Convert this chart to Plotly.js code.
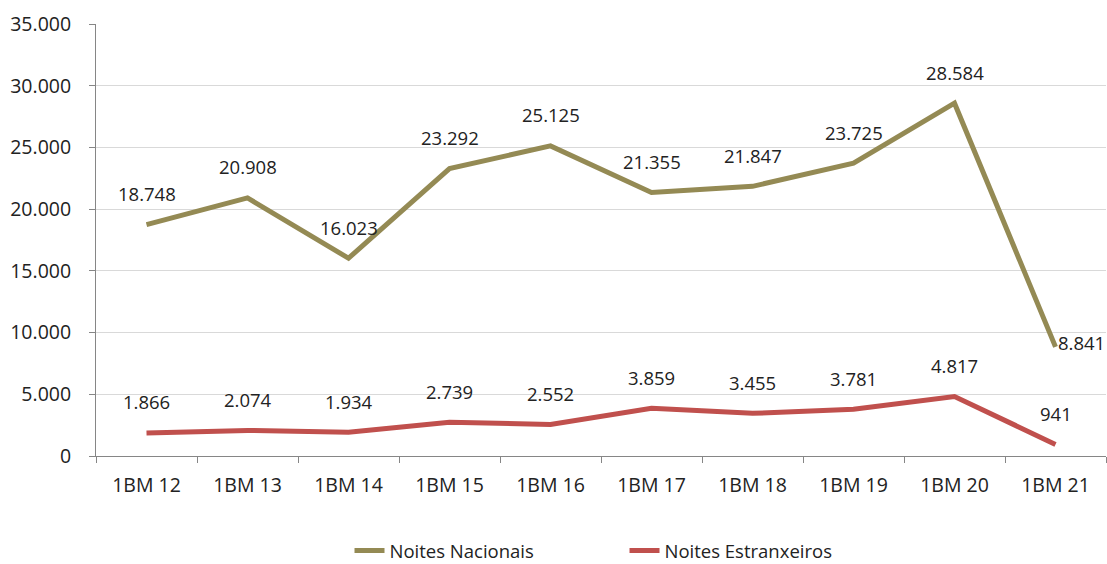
<!DOCTYPE html>
<html><head><meta charset="utf-8">
<script src="https://cdn.plot.ly/plotly-3.0.1.min.js"></script>
<style>html,body{margin:0;padding:0;background:#fff}</style>
</head><body>
<div id="chart" style="width:1107px;height:564px"></div>
<script>
const categories = ["1BM 12","1BM 13","1BM 14","1BM 15","1BM 16","1BM 17","1BM 18","1BM 19","1BM 20","1BM 21"];
const nacionais = [18748,20908,16023,23292,25125,21355,21847,23725,28584,8841];
const estranxeiros = [1866,2074,1934,2739,2552,3859,3455,3781,4817,941];
const yTicks = [0,5000,10000,15000,20000,25000,30000,35000];

function fmt(v){ return String(v).replace(/\B(?=(\d{3})+(?!\d))/g, "."); }

const FONT = "Open Sans, sans-serif";
const annotations = [];
function addLabels(vals){
  vals.forEach((v,i)=>{
    const last = i === vals.length-1 && vals === nacionais;
    annotations.push({
      x: categories[i], y: v, xref:"x", yref:"y", text: fmt(v), showarrow:false,
      xanchor: last ? "left" : "center", yanchor:"middle",
      xshift: 0, yshift: last ? 4 : 31,
      font:{family:FONT,size:18.5,color:"#222"}
    });
  });
}
addLabels(nacionais);
addLabels(estranxeiros);

const traces = [
  {x:categories,y:nacionais,type:"scatter",mode:"lines",name:"Noites Nacionais",line:{color:"#948A54",width:5}},
  {x:categories,y:estranxeiros,type:"scatter",mode:"lines",name:"Noites Estranxeiros",line:{color:"#C0504D",width:5}}
];
const layout = {
  width:1107,height:564,
  margin:{l:96,r:1,t:24,b:108,autoexpand:false},
  paper_bgcolor:"#fff",plot_bgcolor:"#fff",
  separators:",.",
  font:{family:FONT,size:18.5,color:"#222"},
  showlegend:true,
  legend:{orientation:"h",x:0.251,xanchor:"left",y:-0.22,yanchor:"middle",font:{family:FONT,size:18.5,color:"#222"},entrywidth:230,entrywidthmode:"pixels",tracegroupgap:0},
  xaxis:{type:"category",range:[-0.5,9.5],automargin:false,showgrid:false,showline:true,linecolor:"#868686",linewidth:1,ticks:"outside",tickson:"boundaries",ticklen:6,tickcolor:"#868686",zeroline:false,ticklabelstandoff:12,tickfont:{family:FONT,size:19.5,color:"#222"}},
  yaxis:{range:[0,35000],automargin:false,tickvals:yTicks,ticktext:yTicks.map(fmt),showgrid:true,gridcolor:"#d9d9d9",gridwidth:1,showline:true,linecolor:"#868686",ticks:"outside",ticklen:6,tickcolor:"#868686",zeroline:false,ticklabelstandoff:14,tickfont:{family:FONT,size:19.5,color:"#222"}},
  annotations:annotations
};
Plotly.newPlot("chart",traces,layout,{displayModeBar:false});
</script>
</body></html>
